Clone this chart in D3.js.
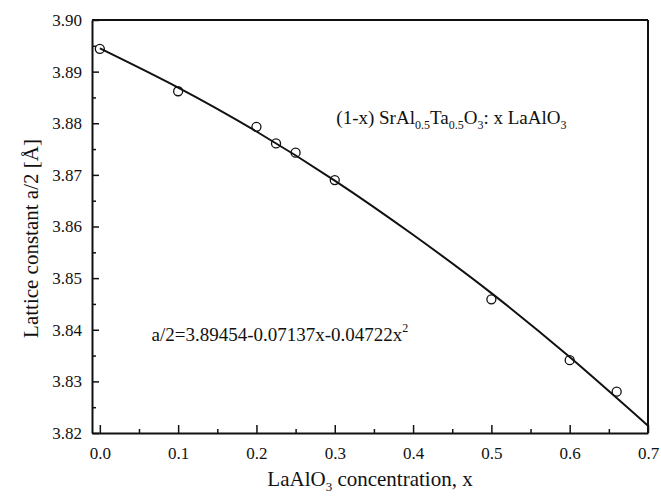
<!DOCTYPE html>
<html>
<head>
<meta charset="utf-8">
<script src="https://cdn.jsdelivr.net/npm/d3@7"></script>
<style>
  body { margin: 0; background: #fff; }
  svg text { font-family: "Liberation Serif", "Times New Roman", serif; fill: #111; }
</style>
</head>
<body>
<div id="chart"></div>
<script>
// measured points
const concentration = [0, 0.1, 0.2, 0.225, 0.25, 0.3, 0.5, 0.6, 0.66];
const latticeHalf = [3.8944, 3.8862, 3.8793, 3.8761, 3.8743, 3.8690, 3.8459, 3.8341, 3.8280];

// fitted line
const fitX = [0, 0.1, 0.2, 0.3, 0.4, 0.5, 0.6, 0.7];
const fitY = [3.8945, 3.8869, 3.8784, 3.8689, 3.8584, 3.8471, 3.8347, 3.8214];

const xTicks = [0, 0.1, 0.2, 0.3, 0.4, 0.5, 0.6, 0.7];
const xMinor = [0.05, 0.15, 0.25, 0.35, 0.45, 0.55, 0.65];
const yTicks = [3.82, 3.83, 3.84, 3.85, 3.86, 3.87, 3.88, 3.89, 3.90];
const yMinor = [3.825, 3.835, 3.845, 3.855, 3.865, 3.875, 3.885, 3.895];

const W = 661, H = 496;
const margin = { top: 20, right: 13, bottom: 63, left: 92 };
const width = W - margin.left - margin.right,
  height = H - margin.top - margin.bottom;
const serif = '"Liberation Serif", "Times New Roman", serif';

const svg = d3.select('#chart')
  .append('svg')
  .attr('width', W)
  .attr('height', H);

const g = svg.append('g')
  .attr('transform', `translate(${margin.left},${margin.top})`);

const x = d3.scaleLinear().domain([-0.01, 0.7]).range([0, width]);
const y = d3.scaleLinear().domain([3.82, 3.90]).range([height, 0]);

// bottom axis, ticks pointing in
g.append('g')
  .attr('transform', `translate(0,${height})`)
  .call(d3.axisBottom(x).tickValues(xTicks).tickSizeInner(-8).tickSizeOuter(0)
    .tickPadding(14).tickFormat(d3.format('.1f')));
g.append('g')
  .attr('transform', `translate(0,${height})`)
  .call(d3.axisBottom(x).tickValues(xMinor).tickSizeInner(-4).tickSizeOuter(0).tickFormat(''))
  .select('.domain').remove();

// left axis
g.append('g')
  .call(d3.axisLeft(y).tickValues(yTicks).tickSizeInner(-7).tickSizeOuter(0)
    .tickPadding(10).tickFormat(d3.format('.2f')));
g.append('g')
  .call(d3.axisLeft(y).tickValues(yMinor).tickSizeInner(-4).tickSizeOuter(0).tickFormat(''))
  .select('.domain').remove();

g.selectAll('g').attr('font-family', serif).attr('font-size', null);
g.selectAll('.tick line').attr('stroke', '#111').attr('stroke-width', 1.5);
g.selectAll('.domain').attr('stroke', '#111').attr('stroke-width', 2);
g.selectAll('.tick text')
  .style('font-family', serif)
  .style('font-size', '17px')
  .attr('fill', '#111');

// top and right frame
g.append('line').attr('x1', 0).attr('x2', width).attr('y1', 0).attr('y2', 0)
  .attr('stroke', '#111').attr('stroke-width', 2);
g.append('line').attr('x1', width).attr('x2', width).attr('y1', 0).attr('y2', height)
  .attr('stroke', '#111').attr('stroke-width', 2);

// fit line
const line = d3.line()
  .x((d, i) => x(fitX[i]))
  .y(d => y(d))
  .curve(d3.curveNatural);

g.append('path')
  .datum(fitY)
  .attr('d', line)
  .attr('fill', 'none')
  .attr('stroke', '#111')
  .attr('stroke-width', 2);

// data circles
g.selectAll('circle.pt')
  .data(latticeHalf)
  .join('circle')
  .attr('class', 'pt')
  .attr('cx', (d, i) => x(concentration[i]))
  .attr('cy', d => y(d))
  .attr('r', 4.5)
  .attr('fill', 'none')
  .attr('stroke', '#111')
  .attr('stroke-width', 1.3);

// axis titles
const xt = svg.append('text')
  .attr('x', margin.left + width / 2)
  .attr('y', 486)
  .attr('text-anchor', 'middle')
  .style('font-size', '21px');
xt.append('tspan').text('LaAlO');
xt.append('tspan').text('3').style('font-size', '13px').attr('dy', 5);
xt.append('tspan').text(' concentration, x').attr('dy', -5);

svg.append('text')
  .attr('transform', `translate(38,${margin.top + height / 2 + 12}) rotate(-90)`)
  .attr('text-anchor', 'middle')
  .style('font-size', '21px')
  .text('Lattice constant a/2 [Å]');

// composition label
const comp = g.append('text')
  .attr('x', x(0.302))
  .attr('y', y(3.8798))
  .style('font-size', '19px');
comp.append('tspan').text('(1-x) SrAl');
comp.append('tspan').text('0.5').style('font-size', '12px').attr('dy', 5);
comp.append('tspan').text('Ta').attr('dy', -5);
comp.append('tspan').text('0.5').style('font-size', '12px').attr('dy', 5);
comp.append('tspan').text('O').attr('dy', -5);
comp.append('tspan').text('3').style('font-size', '12px').attr('dy', 5);
comp.append('tspan').text(': x LaAlO').attr('dy', -5);
comp.append('tspan').text('3').style('font-size', '12px').attr('dy', 5);

// fit equation
const eq = g.append('text')
  .attr('x', x(0.066))
  .attr('y', y(3.8378))
  .style('font-size', '19px');
eq.append('tspan').text('a/2=3.89454-0.07137x-0.04722x');
eq.append('tspan').text('2').style('font-size', '12px').attr('dy', -9);
</script>
</body>
</html>
